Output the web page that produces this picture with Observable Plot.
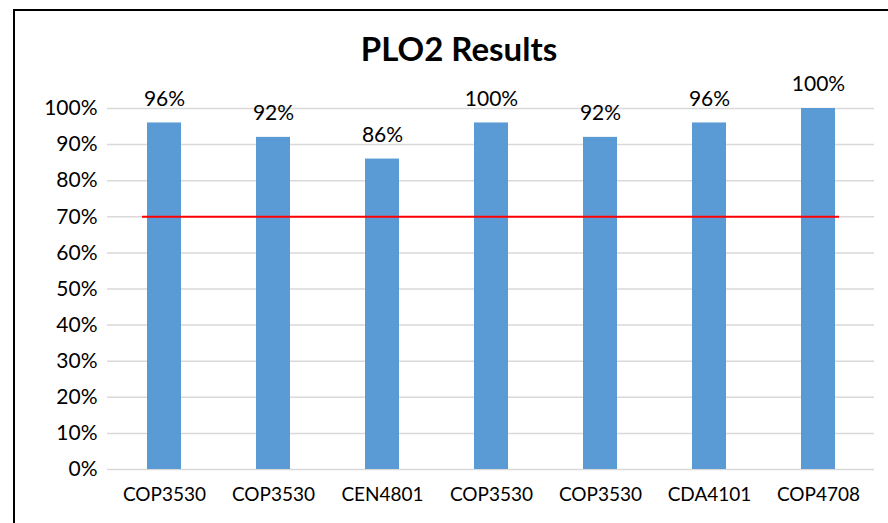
<!DOCTYPE html>
<html>
<head>
<meta charset="utf-8">
<script src="https://cdn.jsdelivr.net/npm/d3@7"></script>
<script src="https://cdn.jsdelivr.net/npm/@observablehq/plot@0.6"></script>
<style>
  html, body { margin: 0; padding: 0; background: #fff; }
  #wrap { position: relative; width: 888px; height: 523px; overflow: hidden; }
  #border { position: absolute; left: 13px; top: 9px; width: 1000px; height: 1000px;
            border-left: 2px solid #000; border-top: 2px solid #000; }
  #title { position: absolute; left: 0; width: 918px; top: 32px; text-align: center;
           font-family: Lato, sans-serif; font-weight: bold; font-size: 33px; line-height: 33px; color: #000; }
  #chart { position: absolute; left: 0; top: 0; }
</style>
</head>
<body>
<div id="wrap">
  <div id="border"></div>
  <div id="title">PLO2 Results</div>
  <div id="chart"></div>
</div>
<script>
const categories = ["COP3530", "COP3530", "CEN4801", "COP3530", "COP3530", "CDA4101", "COP4708"];
const values = [96, 92, 86, 96, 92, 96, 100];
const valueLabels = ["96%", "92%", "86%", "100%", "92%", "96%", "100%"];
const threshold = [70];
const yTicks = [0, 10, 20, 30, 40, 50, 60, 70, 80, 90, 100];

const data = categories.map((c, i) => ({i, category: c, value: values[i], label: valueLabels[i]}));

const chart = Plot.plot({
  width: 888,
  height: 523,
  marginLeft: 107,
  marginRight: 14,
  marginTop: 108,
  marginBottom: 54,
  style: {fontFamily: "Lato, sans-serif", fontSize: "20px", color: "#000", background: "transparent"},
  x: {domain: d3.range(categories.length), paddingInner: 0.69, paddingOuter: 0.345, align: 0.5},
  y: {domain: [0, 100]},
  marks: [
    Plot.gridY(yTicks, {stroke: "#d9d9d9", strokeOpacity: 1, strokeWidth: 1.5}),
    Plot.barY(data, {x: "i", y: "value", fill: "#5b9bd5"}),
    Plot.ruleY(threshold, {stroke: "#ff0000", strokeWidth: 2, insetLeft: 35, insetRight: 35}),
    Plot.text(data, {x: "i", y: "value", text: "label", dy: -24, fontSize: 21, fill: "#000"}),
    Plot.axisY(yTicks, {tickSize: 0, tickPadding: 10, tickFormat: d => d + "%", label: null, fontSize: 21}),
    Plot.axisX({tickSize: 0, tickPadding: 18, tickFormat: i => categories[i], label: null, fontSize: 19})
  ]
});
document.getElementById("chart").appendChild(chart);
</script>
</body>
</html>
